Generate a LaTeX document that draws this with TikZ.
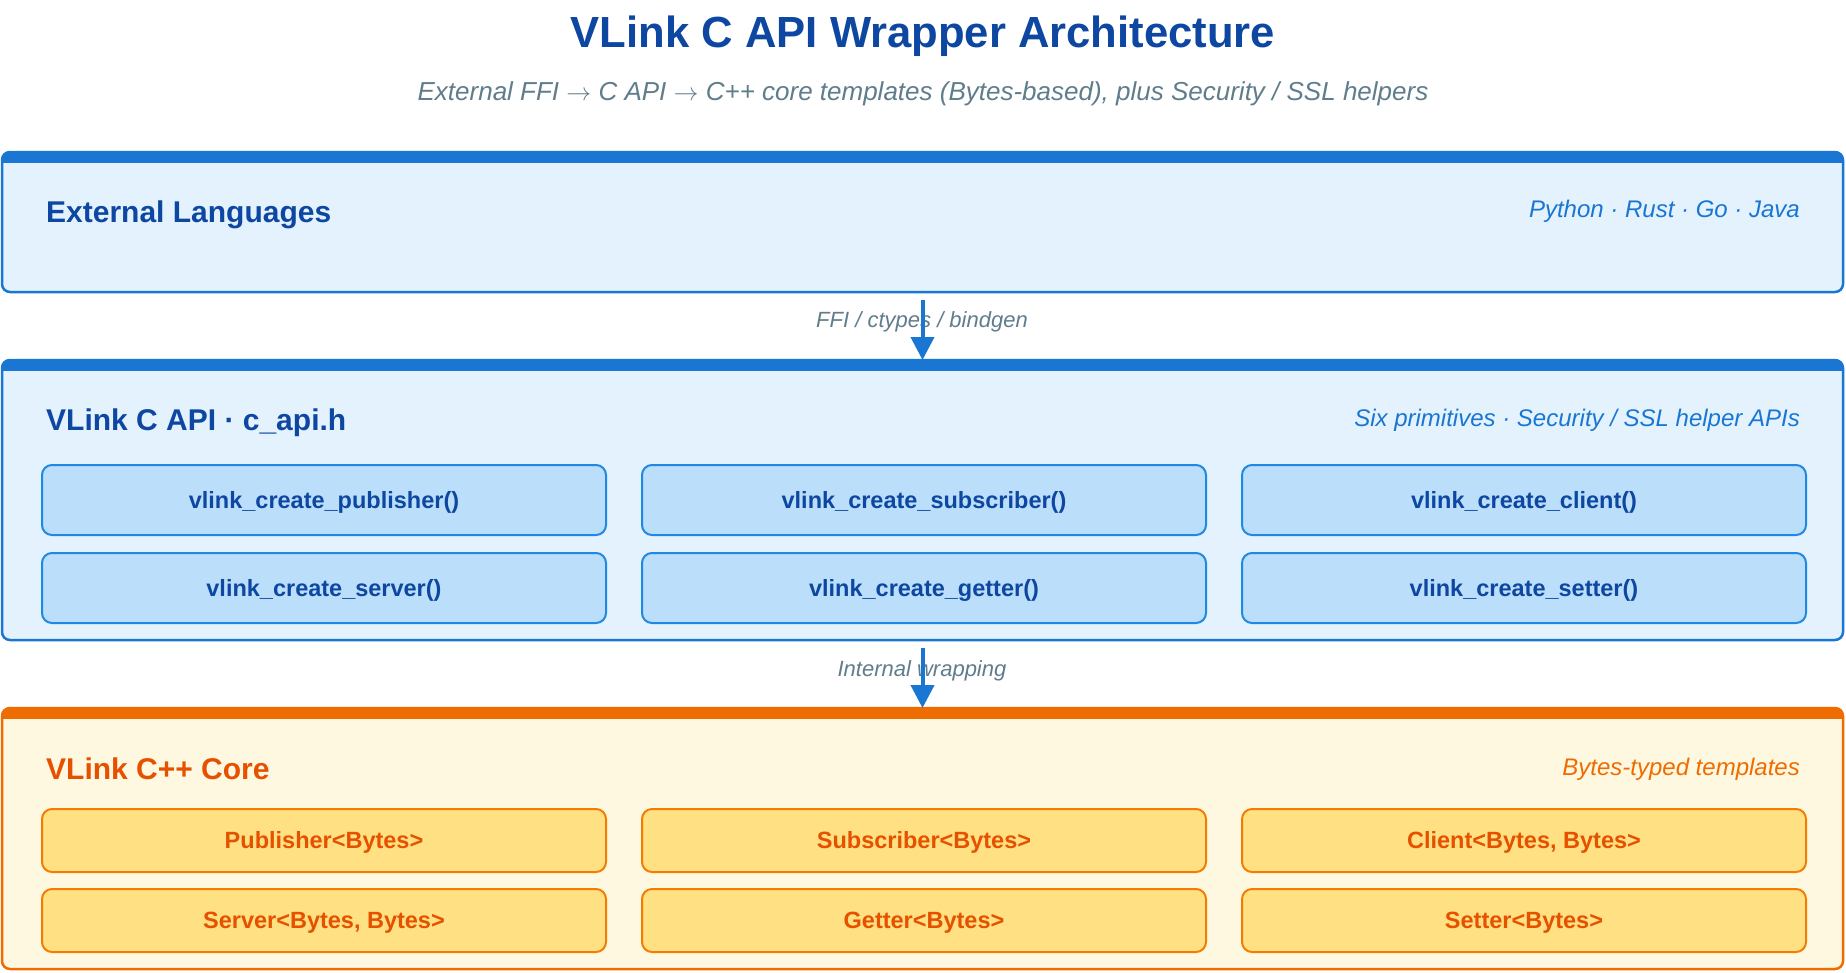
\documentclass[tikz,border=0pt]{standalone}
\usepackage{fontspec}
\setmainfont{Liberation Sans}
\usetikzlibrary{arrows.meta}
\definecolor{cbluedark}{HTML}{0D47A1}
\definecolor{cblue}{HTML}{1976D2}
\definecolor{cbluefill}{HTML}{E3F2FD}
\definecolor{cboxbluefill}{HTML}{BBDEFB}
\definecolor{cboxblueline}{HTML}{1E88E5}
\definecolor{corange}{HTML}{EF6C00}
\definecolor{corangedark}{HTML}{E65100}
\definecolor{ccream}{HTML}{FFF8E1}
\definecolor{cboxorangefill}{HTML}{FFE082}
\definecolor{cboxorangeline}{HTML}{F57C00}
\definecolor{cgrey}{HTML}{607D8B}
\newcommand{\myarrow}{\ensuremath{\rightarrow}}
\begin{document}
\begin{tikzpicture}[x=1pt,y=-1pt,
  panel/.style={line width=2.5pt, rounded corners=8pt, inner sep=0pt, outer sep=0pt, anchor=north west, minimum width=1841pt},
  bluepanel/.style={panel, draw=cblue, fill=cbluefill},
  orangepanel/.style={panel, draw=corange, fill=ccream},
  boxbase/.style={line width=2pt, rounded corners=10pt, minimum width=564pt, anchor=north west, inner sep=0pt, outer sep=0pt, font=\fontsize{23.5}{28}\selectfont\bfseries, text height=16.8pt, text depth=0pt},
  bluebox/.style={boxbase, draw=cboxblueline, fill=cboxbluefill, text=cbluedark, minimum height=70pt},
  orangebox/.style={boxbase, draw=cboxorangeline, fill=cboxorangefill, text=corangedark, minimum height=63pt},
  header/.style={anchor=base west, inner sep=0pt, font=\fontsize{30}{36}\selectfont\bfseries},
  sidenote/.style={anchor=base east, inner sep=0pt, font=\fontsize{24}{28}\selectfont\itshape},
  lbl/.style={inner sep=0pt, text=cgrey, font=\fontsize{22}{26}\selectfont\itshape, text height=15.8pt, text depth=0pt},
  arr/.style={draw=cblue, line width=4pt, -{Triangle[width=23pt,length=23pt]}},
]
\useasboundingbox[fill=white] (0,0) rectangle (1846,972);

% title
\node[anchor=base, inner sep=0pt, text=cbluedark, font=\fontsize{43.6}{50}\selectfont\bfseries] (title) at (923,47.5) {VLink C API Wrapper Architecture};
\node[anchor=base, inner sep=0pt, text=cgrey, font=\fontsize{26}{30}\selectfont\itshape] (subtitle) at (923,100) {External FFI \myarrow{} C API \myarrow{} C++ core templates (Bytes-based), plus Security / SSL helpers};

% panel 1
\node[bluepanel, minimum height=140pt] (p1) at (2,152) {};
\begin{scope}
  \clip[rounded corners=8pt] (p1.north west) rectangle (p1.south east);
  \fill[cblue] (p1.north west) rectangle ([yshift=-11pt]p1.north east);
\end{scope}
\node[header, text=cbluedark] (h1) at (46,222) {External Languages};
\node[sidenote, text=cblue] (s1) at (1800,217) {Python · Rust · Go · Java};

% panel 2
\node[bluepanel, minimum height=280pt] (p2) at (2,360) {};
\begin{scope}
  \clip[rounded corners=8pt] (p2.north west) rectangle (p2.south east);
  \fill[cblue] (p2.north west) rectangle ([yshift=-11pt]p2.north east);
\end{scope}
\node[header, text=cbluedark] (h2) at (46,430) {VLink C API · c\_api.h};
\node[sidenote, text=cblue] (s2) at (1800,426.5) {Six primitives · Security / SSL helper APIs};
\node[bluebox] (b11) at (42,465) {vlink\_create\_publisher()};
\node[bluebox] (b12) at (642,465) {vlink\_create\_subscriber()};
\node[bluebox] (b13) at (1242,465) {vlink\_create\_client()};
\node[bluebox] (b21) at (42,553) {vlink\_create\_server()};
\node[bluebox] (b22) at (642,553) {vlink\_create\_getter()};
\node[bluebox] (b23) at (1242,553) {vlink\_create\_setter()};

% panel 3
\node[orangepanel, minimum height=261pt] (p3) at (2,708) {};
\begin{scope}
  \clip[rounded corners=8pt] (p3.north west) rectangle (p3.south east);
  \fill[corange] (p3.north west) rectangle ([yshift=-11pt]p3.north east);
\end{scope}
\node[header, text=corangedark] (h3) at (46,779) {VLink C++ Core};
\node[sidenote, text=corange] (s3) at (1800,775) {Bytes-typed templates};
\node[orangebox] (c11) at (42,809) {Publisher<Bytes>};
\node[orangebox] (c12) at (642,809) {Subscriber<Bytes>};
\node[orangebox] (c13) at (1242,809) {Client<Bytes, Bytes>};
\node[orangebox] (c21) at (42,889) {Server<Bytes, Bytes>};
\node[orangebox] (c22) at (642,889) {Getter<Bytes>};
\node[orangebox] (c23) at (1242,889) {Setter<Bytes>};

% connectors
\node[lbl] (l1) at (922,320) {FFI / ctypes / bindgen};
\node[lbl] (l2) at (922,668.5) {Internal wrapping};
\draw[arr] ([yshift=-8pt]p1.south) -- (p2.north);
\draw[arr] ([yshift=-8pt]p2.south) -- (p3.north);
\end{tikzpicture}
\end{document}
